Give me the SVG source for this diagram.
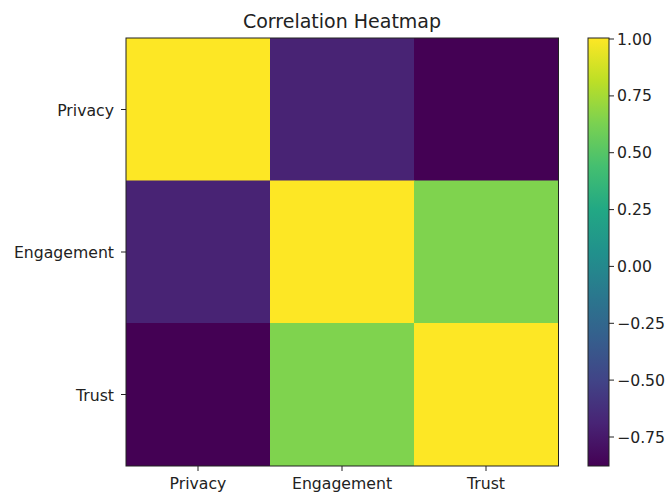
<svg xmlns="http://www.w3.org/2000/svg" width="669" height="495" viewBox="0 0 669 495">
<style>
text{font-family:"DejaVu Sans","Liberation Sans",sans-serif;fill:#222;}
.t{font-size:15.7px;}
.title{font-size:19px;}
.tick{stroke:#222;stroke-width:1;}
.frame{fill:none;stroke:#222;stroke-width:1;}
</style>
<defs>
<linearGradient id="viridis" x1="0" y1="1" x2="0" y2="0">
<stop offset="0" stop-color="#440154"/>
<stop offset="0.1" stop-color="#482475"/>
<stop offset="0.2" stop-color="#414487"/>
<stop offset="0.3" stop-color="#355f8d"/>
<stop offset="0.4" stop-color="#2a788e"/>
<stop offset="0.5" stop-color="#21918c"/>
<stop offset="0.6" stop-color="#22a884"/>
<stop offset="0.7" stop-color="#44bf70"/>
<stop offset="0.8" stop-color="#7ad151"/>
<stop offset="0.9" stop-color="#bddf26"/>
<stop offset="1" stop-color="#fde725"/>
</linearGradient>
</defs>
<rect width="669" height="495" fill="#fff"/>
<text class="title" x="342" y="28" text-anchor="middle">Correlation Heatmap</text>
<g id="heatmap">
<rect x="126" y="38" width="144.5" height="143" fill="#fde725"/>
<rect x="270" y="38" width="144.5" height="143" fill="#482374"/>
<rect x="414" y="38" width="144.5" height="143" fill="#440154"/>
<rect x="126" y="180.5" width="144.5" height="143" fill="#482374"/>
<rect x="270" y="180.5" width="144.5" height="143" fill="#fde725"/>
<rect x="414" y="180.5" width="144.5" height="143" fill="#7fd34e"/>
<rect x="126" y="323" width="144.5" height="143" fill="#440154"/>
<rect x="270" y="323" width="144.5" height="143" fill="#7fd34e"/>
<rect x="414" y="323" width="144.5" height="143" fill="#fde725"/>
<rect class="frame" x="126" y="38" width="432.5" height="428"/>
</g>
<g id="axes">
<line class="tick" x1="121" y1="109.5" x2="126" y2="109.5"/>
<line class="tick" x1="121" y1="252" x2="126" y2="252"/>
<line class="tick" x1="121" y1="394.5" x2="126" y2="394.5"/>
<line class="tick" x1="198" y1="466" x2="198" y2="471"/>
<line class="tick" x1="342" y1="466" x2="342" y2="471"/>
<line class="tick" x1="486" y1="466" x2="486" y2="471"/>
<text class="t" x="114" y="115.5" text-anchor="end">Privacy</text>
<text class="t" x="114" y="258" text-anchor="end">Engagement</text>
<text class="t" x="114" y="400.5" text-anchor="end">Trust</text>
<text class="t" x="198" y="489" text-anchor="middle">Privacy</text>
<text class="t" x="342" y="489" text-anchor="middle">Engagement</text>
<text class="t" x="486" y="489" text-anchor="middle">Trust</text>
</g>
<g id="colorbar">
<rect x="588" y="38" width="21" height="428" fill="url(#viridis)"/>
<rect class="frame" x="588" y="38" width="21" height="428"/>
<line class="tick" x1="609" y1="39" x2="614" y2="39"/>
<line class="tick" x1="609" y1="95.9" x2="614" y2="95.9"/>
<line class="tick" x1="609" y1="152.7" x2="614" y2="152.7"/>
<line class="tick" x1="609" y1="209.6" x2="614" y2="209.6"/>
<line class="tick" x1="609" y1="266.4" x2="614" y2="266.4"/>
<line class="tick" x1="609" y1="323.3" x2="614" y2="323.3"/>
<line class="tick" x1="609" y1="380.1" x2="614" y2="380.1"/>
<line class="tick" x1="609" y1="437" x2="614" y2="437"/>
<text class="t" x="617" y="44.5">1.00</text>
<text class="t" x="617" y="101.4">0.75</text>
<text class="t" x="617" y="158.2">0.50</text>
<text class="t" x="617" y="215.1">0.25</text>
<text class="t" x="617" y="271.9">0.00</text>
<text class="t" x="617" y="328.8">−0.25</text>
<text class="t" x="617" y="385.6">−0.50</text>
<text class="t" x="617" y="442.5">−0.75</text>
</g>
</svg>
